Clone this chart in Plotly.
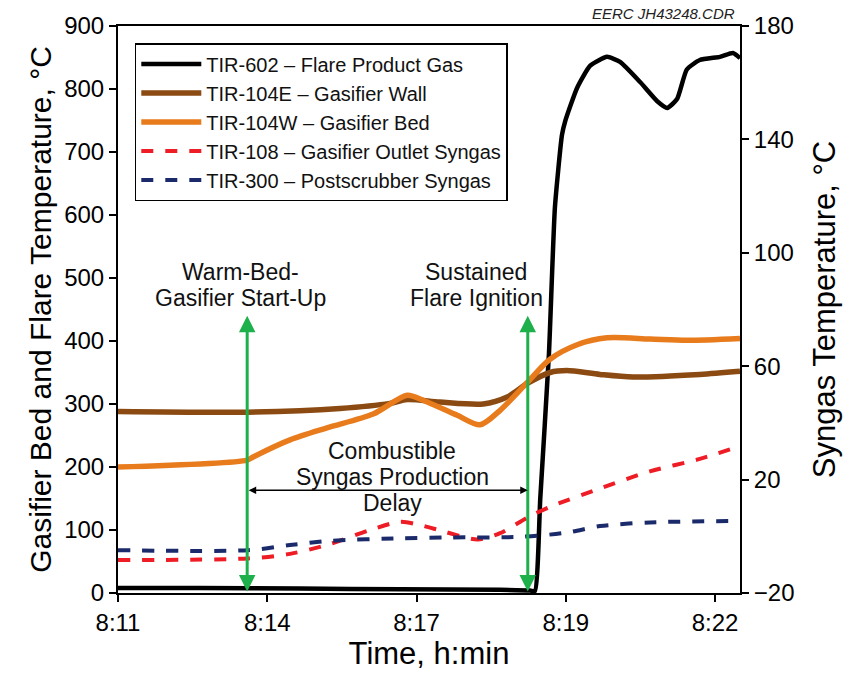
import plotly.graph_objects as go

# Time in minutes after 8:11
tick_vals = [0, 2.75, 5.5, 8.25, 11]
tick_text = ["8:11", "8:14", "8:17", "8:19", "8:22"]

t_602 = [0, 1.5, 3.35, 5.2, 7.04, 7.59, 7.68, 7.78, 7.94, 8.05, 8.18, 8.24, 8.46, 8.70, 9.01, 9.25, 9.62, 9.93, 10.12, 10.30, 10.48, 10.72, 11.09, 11.33, 11.46]
v_602 = [8, 8, 7, 6, 5, 4, 3, 150, 380, 612, 727, 749, 802, 837, 851, 843, 811, 781, 770, 784, 831, 846, 851, 857, 849]

t_104e = [0, 2.38, 4.09, 5.01, 5.33, 5.93, 6.73, 7.17, 7.55, 7.96, 8.27, 8.88, 9.49, 10.72, 11.46]
v_104e = [288, 287, 293, 301, 307, 303, 300, 311, 333, 350, 353, 347, 343, 347, 352]

t_104w = [0, 2.38, 2.49, 3.17, 3.85, 4.70, 5.33, 5.62, 6.25, 6.67, 7.04, 7.55, 7.96, 8.46, 9.01, 9.80, 10.48, 11.46]
v_104w = [200, 211, 216, 243, 262, 284, 314, 306, 282, 267, 290, 335, 371, 394, 405, 403, 401, 404]

t_108 = [0, 2.40, 3.17, 3.91, 4.64, 5.20, 5.56, 6.02, 6.63, 7.04, 7.55, 7.96, 8.88, 9.80, 10.72, 11.46]
v_108 = [-8.4, -7.8, -6.2, -2.7, 2.2, 5.1, 4.0, 1.6, -1.1, 1.1, 6.7, 10.4, 16.9, 22.9, 27.3, 31.8]

t_300 = [0, 2.40, 3.17, 3.91, 5.20, 6.12, 7.41, 8.27, 8.88, 9.80, 11.46]
v_300 = [-4.9, -4.9, -3.1, -1.6, -0.7, -0.4, -0.2, 1.3, 3.6, 4.9, 5.4]

startup_t = 2.38
ignition_t = 7.55

FONT = "Liberation Sans, Arial, sans-serif"

fig = go.Figure()
fig.add_trace(go.Scatter(x=t_602, y=v_602, name="TIR-602 – Flare Product Gas", mode="lines",
                         line=dict(color="#000000", width=4.5, shape="spline", smoothing=0.5)))
fig.add_trace(go.Scatter(x=t_104e, y=v_104e, name="TIR-104E – Gasifier Wall", mode="lines",
                         line=dict(color="#8B4A12", width=5.5, shape="spline", smoothing=0.8)))
fig.add_trace(go.Scatter(x=t_104w, y=v_104w, name="TIR-104W – Gasifier Bed", mode="lines",
                         line=dict(color="#E87B1C", width=5.5, shape="spline", smoothing=0.8)))
fig.add_trace(go.Scatter(x=t_108, y=v_108, name="TIR-108 – Gasifier Outlet Syngas", mode="lines", yaxis="y2",
                         line=dict(color="#EE1C24", width=4, dash="dash", shape="spline", smoothing=0.8)))
fig.add_trace(go.Scatter(x=t_300, y=v_300, name="TIR-300 – Postscrubber Syngas", mode="lines", yaxis="y2",
                         line=dict(color="#1B2A6B", width=4, dash="dash", shape="spline", smoothing=0.8)))

ann = []
# green vertical double arrows
for tx in (startup_t, ignition_t):
    ann.append(dict(x=tx, y=440, ax=tx, ay=0, xref="x", yref="y", axref="x", ayref="y",
                    text="", showarrow=True, arrowhead=2, arrowside="end+start", arrowsize=1.1,
                    arrowwidth=3, arrowcolor="#1DB04B"))
# horizontal delay arrow
ann.append(dict(x=ignition_t, y=163, ax=startup_t, ay=163, xref="x", yref="y", axref="x", ayref="y",
                text="", showarrow=True, arrowhead=2, arrowside="end+start", arrowsize=1,
                arrowwidth=1.5, arrowcolor="#000000"))

label_lines = [
    ("Warm-Bed-", 2.25, 509),
    ("Gasifier Start-Up", 2.25, 469),
    ("Sustained", 6.6, 509),
    ("Flare Ignition", 6.6, 469),
    ("Combustible", 5.05, 225),
    ("Syngas Production", 5.05, 184),
    ("Delay", 5.05, 143),
]
for txt, lx, ly in label_lines:
    ann.append(dict(x=lx, y=ly, xref="x", yref="y", text=txt, showarrow=False,
                    font=dict(family=FONT, size=23, color="#111")))

ann.append(dict(x=0.995, y=1.004, xref="paper", yref="paper", xanchor="right", yanchor="bottom",
                text="<i>EERC JH43248.CDR</i>", showarrow=False,
                font=dict(family=FONT, size=15, color="#222")))

fig.update_layout(
    width=847, height=673,
    margin=dict(l=118, r=107, t=26, b=80),
    paper_bgcolor="white", plot_bgcolor="white",
    font=dict(family=FONT, color="#000"),
    showlegend=True,
    legend=dict(x=0.027, y=0.97, xanchor="left", yanchor="top",
                bordercolor="#000", borderwidth=1.5, bgcolor="white", itemwidth=60,
                font=dict(family=FONT, size=20, color="#111"), tracegroupgap=0),
    xaxis=dict(range=[0, 11.46], tickvals=tick_vals, ticktext=tick_text,
               showline=True, linecolor="#000", linewidth=2, mirror=True,
               ticks="outside", ticklen=7, tickwidth=1.5, tickcolor="#000",
               showgrid=False, zeroline=False,
               tickfont=dict(family=FONT, size=24),
               title=dict(text="Time, h:min", font=dict(family=FONT, size=31), standoff=4)),
    yaxis=dict(range=[0, 900], dtick=100, tick0=0,
               showline=True, linecolor="#000", linewidth=2,
               ticks="outside", ticklen=7, tickwidth=1.5, tickcolor="#000",
               showgrid=False, zeroline=False,
               tickfont=dict(family=FONT, size=24),
               title=dict(text="Gasifier Bed and Flare Temperature, °C", font=dict(family=FONT, size=30), standoff=4)),
    yaxis2=dict(range=[-20, 180], dtick=40, tick0=-20, overlaying="y", side="right",
                showline=True, linecolor="#000", linewidth=2,
                ticks="outside", ticklen=7, tickwidth=1.5, tickcolor="#000",
                showgrid=False, zeroline=False,
                tickfont=dict(family=FONT, size=24),
                title=dict(text="Syngas Temperature, °C", font=dict(family=FONT, size=31), standoff=20)),
    annotations=ann,
)

fig.write_html("out.html")
